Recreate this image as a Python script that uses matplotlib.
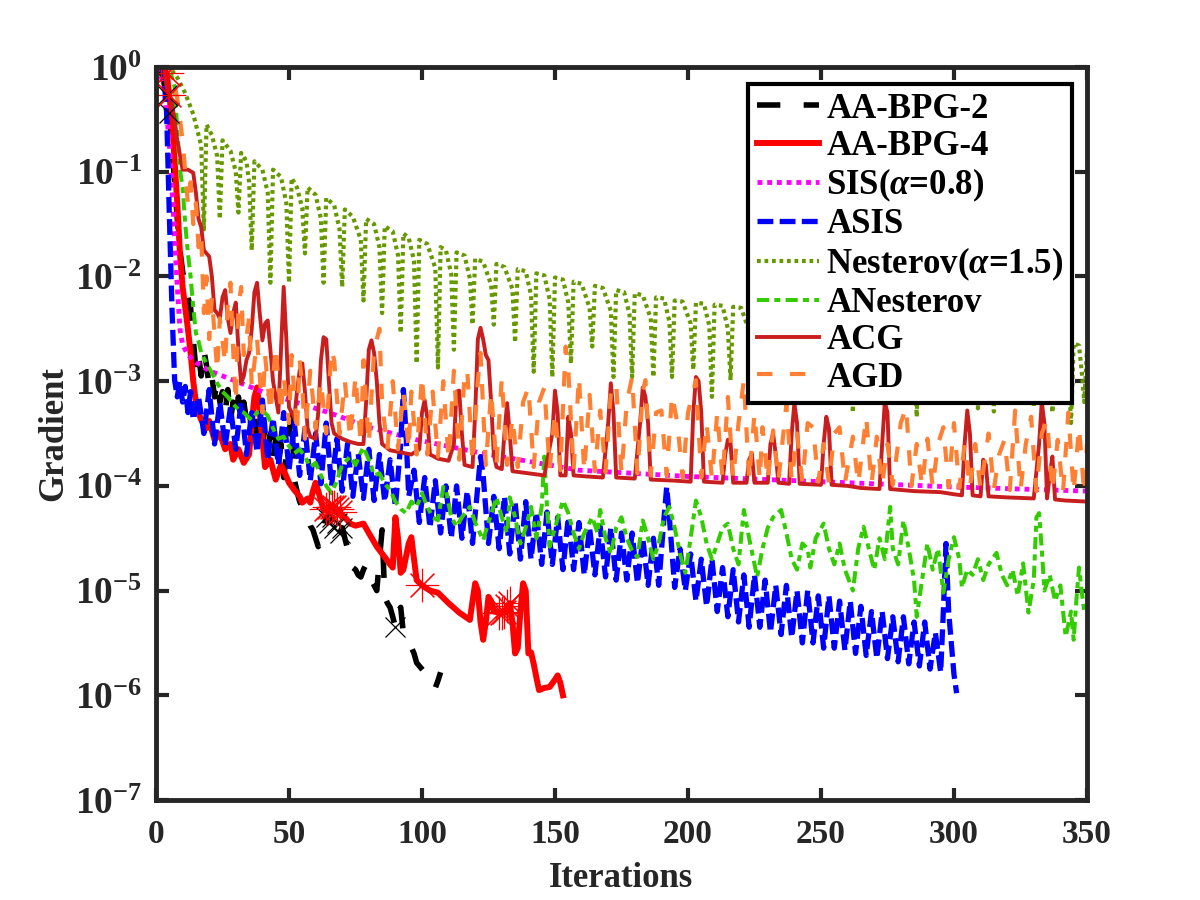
import numpy as np
import matplotlib
matplotlib.use("Agg")
import matplotlib.pyplot as plt
from matplotlib.ticker import NullLocator

# gradient norm per iteration, kept as (iteration, log10 value)
aabpg2 = [(1,0.0),(2,-0.05),(3,-0.15),(4,-0.27),(5,-0.44),(6,-0.75),(7,-1.1),(8,-1.45),(9,-1.75),(10,-1.95),
          (11,-2.1),(12,-2.2),(13,-2.3),(14,-2.6),(15,-2.89),(16,-2.75),(17,-2.95),(18,-2.7),(19,-2.85),(20,-3.05),
          (21,-2.95),(22,-3.15),(23,-3.0),(24,-3.2),(25,-3.1),(26,-3.3),(27,-3.08),(28,-3.37),(29,-3.2),(30,-3.35),
          (31,-3.15),(32,-3.4),(33,-3.2),(34,-3.37),(35,-3.25),(36,-3.5),(37,-3.3),(38,-3.55),(39,-3.4),(40,-3.6),
          (41,-3.45),(42,-3.65),(43,-3.5),(44,-3.75),(45,-3.55),(46,-3.8),(47,-3.6),(48,-3.92),(49,-3.7),(50,-3.5),
          (51,-3.3),(52,-3.94),(53,-4.05),(54,-4.15),(55,-4.2),(56,-4.23),(57,-4.3),(58,-4.38),(59,-4.42),(60,-4.5),
          (61,-4.58),(62,-4.45),(63,-4.4),(64,-4.3),(65,-4.35),(66,-4.3),(67,-4.4),(68,-4.35),(69,-4.45),(70,-4.4),
          (71,-4.5),(72,-4.6),(73,-4.7),(74,-4.78),(75,-4.8),(76,-4.85),(77,-4.87),(78,-4.8),(79,-4.75),(80,-4.85),
          (81,-4.9),(82,-4.95),(83,-5.0),(84,-4.7),(85,-4.42),(86,-5.06),(87,-5.12),(88,-5.16),(89,-5.25),(90,-5.35),
          (91,-5.2),(92,-5.16),(93,-5.41),(94,-5.45),(95,-5.5),(96,-5.54),(97,-5.6),(98,-5.69),(99,-5.72),(100,-5.75),
          (101,-5.78),(102,-5.8),(103,-5.85),(104,-5.9),(105,-5.93),(106,-5.86),(107,-5.78)]

aabpg4 = [(1,0.0),(2,0.0),(3,-0.02),(4,-0.06),(5,-0.27),(6,-0.5),(7,-0.9),(8,-1.3),(9,-1.78),(10,-2.1),
          (11,-2.3),(12,-2.5),(13,-2.73),(14,-3.0),(15,-3.2),(16,-3.3),(17,-3.37),(19,-3.45),(20,-3.38),(22,-3.56),
          (24,-3.5),(26,-3.65),(28,-3.6),(29,-3.75),(31,-3.65),(33,-3.78),(35,-3.7),(36,-3.4),(37,-3.15),(38,-3.06),
          (39,-3.3),(41,-3.82),(43,-3.75),(45,-3.94),(47,-3.8),(48,-3.85),(50,-3.97),(52,-4.04),(54,-4.1),(55,-4.16),
          (57,-4.12),(58,-4.16),(59,-4.05),(60,-3.97),(61,-4.05),(63,-4.23),(65,-4.2),(67,-4.2),(69,-4.25),(71,-4.3),
          (73,-4.36),(75,-4.38),(78,-4.36),(80,-4.45),(83,-4.58),(86,-4.68),(88,-4.75),(89,-4.78),(90,-4.3),(91,-4.5),
          (92,-4.83),(93,-4.8),(95,-4.55),(96,-4.49),(97,-4.7),(98,-4.9),(100,-4.95),(103,-5.0),(106,-5.02),(110,-5.12),
          (114,-5.21),(118,-5.28),(119,-5.1),(120,-4.93),(121,-5.0),(122,-5.3),(123,-5.47),(124,-5.3),(125,-5.06),(126,-5.1),
          (127,-5.2),(129,-5.21),(131,-5.21),(132,-5.15),(133,-5.12),(134,-5.3),(135,-5.6),(136,-5.55),(137,-5.2),(138,-4.93),
          (139,-5.0),(140,-5.6),(141,-5.59),(142,-5.7),(143,-5.83),(144,-5.95),(146,-5.93),(148,-5.92),(150,-5.85),(151,-5.81),
          (152,-5.88),(153,-6.0)]

sis = [(1,0.0),(3,-0.2),(4,-0.45),(5,-0.73),(6,-1.15),(7,-1.62),(8,-2.1),(9,-2.5),(10,-2.65),(12,-2.75),
       (15,-2.82),(20,-2.9),(29,-2.99),(40,-3.1),(50,-3.18),(65,-3.3),(80,-3.44),(98,-3.56),(123,-3.69),(159,-3.85),
       (200,-3.91),(260,-3.97),(300,-4.01),(350,-4.05)]

asis = [(1,0.0),(2,0.0),(3,-0.1),(4,-0.44),(5,-1.4),(6,-2.3),(7,-2.99),(8,-3.15),(9,-3.0),(10,-3.2),
        (11,-3.05),(12,-3.3),(13,-3.1),(14,-3.37),(16,-3.15),(18,-3.5),(20,-3.08),(22,-3.6),(24,-3.2),(26,-3.62),
        (28,-3.25),(30,-3.65),(32,-3.2),(34,-3.7),(36,-3.3),(38,-3.68),(40,-3.18),(42,-3.75),(44,-3.35),(46,-3.8),
        (48,-3.3),(50,-3.85),(52,-3.4),(54,-3.9),(56,-3.45),(58,-3.95),(60,-3.5),(62,-3.98),(64,-3.4),(66,-4.0),
        (68,-3.55),(70,-4.05),(72,-3.6),(74,-4.1),(76,-3.69),(78,-4.12),(80,-3.65),(82,-4.14),(84,-3.7),(86,-4.15),
        (88,-3.75),(90,-4.2),(92,-3.6),(93,-3.08),(94,-3.5),(95,-4.1),(97,-3.85),(99,-4.35),(101,-3.92),(103,-4.4),
        (105,-3.95),(107,-4.45),(109,-4.0),(111,-4.5),(113,-4.0),(115,-4.5),(117,-4.05),(119,-4.55),(121,-4.0),(122,-3.72),
        (123,-3.9),(125,-4.55),(127,-4.1),(129,-4.6),(131,-4.1),(133,-4.65),(135,-4.15),(137,-4.7),(139,-4.15),(141,-4.7),
        (143,-4.25),(145,-4.75),(147,-4.25),(149,-4.75),(151,-4.3),(153,-4.8),(155,-4.3),(157,-4.8),(159,-4.35),(161,-4.85),
        (163,-4.4),(165,-4.85),(167,-4.39),(169,-4.87),(171,-4.4),(173,-4.9),(175,-4.45),(177,-4.9),(179,-4.45),(181,-4.93),
        (183,-4.5),(185,-4.95),(187,-4.5),(189,-4.95),(191,-4.3),(192,-4.01),(193,-4.3),(195,-4.97),(197,-4.6),(199,-5.0),
        (201,-4.65),(203,-5.1),(205,-4.7),(207,-5.15),(209,-4.7),(211,-5.2),(213,-4.78),(215,-5.25),(217,-4.8),(219,-5.3),
        (221,-4.85),(223,-5.35),(225,-4.85),(227,-5.35),(229,-4.9),(231,-5.4),(233,-4.95),(235,-5.42),(237,-4.95),(239,-5.45),
        (241,-5.0),(243,-5.5),(245,-5.0),(247,-5.5),(249,-5.05),(251,-5.55),(253,-5.05),(255,-5.55),(257,-5.1),(259,-5.57),
        (261,-5.1),(263,-5.6),(265,-5.15),(267,-5.62),(269,-5.2),(271,-5.65),(273,-5.2),(275,-5.65),(277,-5.25),(279,-5.68),
        (281,-5.25),(283,-5.7),(285,-5.3),(287,-5.72),(289,-5.3),(291,-5.75),(293,-5.4),(295,-5.78),(296,-5.2),(297,-4.55),
        (298,-5.2),(299,-5.5),(300,-5.8),(301,-5.98)]

nesterov = [(1,0.0),(5,0.0),(8,-0.1),(11,-0.25),(14,-0.45),(17,-0.75),(18,-1.55),
            (19,-0.55),(21,-0.65),(23,-0.85),(24,-1.45),(25,-0.7),(28,-0.8),(30,-1.0),(31,-1.39),
            (32,-0.82),(34,-0.9),(35,-1.1),(36,-1.75),(37,-0.9),(40,-0.98),(42,-1.2),(43,-2.06),
            (44,-0.98),(47,-1.05),(49,-1.3),(50,-2.06),(51,-1.06),(53,-1.15),(55,-1.35),(56,-1.78),
            (57,-1.15),(60,-1.22),(62,-1.45),(63,-2.06),(64,-1.25),(67,-1.32),(69,-1.55),(70,-2.1),
            (71,-1.36),(74,-1.43),(77,-1.65),(78,-2.23),(79,-1.45),(82,-1.5),(84,-1.72),(85,-2.35),
            (86,-1.52),(89,-1.57),(91,-1.8),(92,-2.54),(93,-1.59),(95,-1.63),(97,-1.85),(98,-2.83),
            (99,-1.65),(102,-1.69),(105,-1.92),(106,-2.87),(107,-1.72),(109,-1.75),(111,-1.98),(112,-2.7),
            (113,-1.77),(116,-1.8),(118,-2.02),(119,-2.46),(120,-1.83),(123,-1.86),(126,-2.08),(127,-2.46),
            (128,-1.88),(131,-1.91),(134,-2.12),(135,-2.63),(136,-1.93),(139,-1.95),(141,-2.18),(142,-2.91),
            (143,-1.97),(146,-1.99),(148,-2.22),(149,-2.96),(150,-2.01),(153,-2.03),(155,-2.25),(156,-2.83),
            (157,-2.05),(160,-2.07),(163,-2.3),(164,-2.67),(165,-2.09),(168,-2.11),(171,-2.33),(172,-2.96),
            (173,-2.13),(176,-2.15),(178,-2.36),(179,-2.96),(180,-2.16),(183,-2.18),(186,-2.4),(187,-2.96),
            (188,-2.2),(191,-2.21),(193,-2.43),(194,-2.96),(195,-2.23),(198,-2.24),(201,-2.45),(202,-2.89),
            (203,-2.25),(206,-2.26),(208,-2.47),(209,-3.15),(210,-2.27),(213,-2.28),(215,-2.5),(216,-2.99),
            (217,-2.29),(220,-2.3),(223,-2.52),(224,-3.0),(225,-2.32),(228,-2.33),(230,-2.55),(231,-3.05),
            (232,-2.34),(235,-2.35),(238,-2.57),(239,-2.9),(240,-2.36),(243,-2.37),(245,-2.59),(246,-3.1),
            (247,-2.38),(250,-2.39),(253,-2.61),(254,-3.0),(255,-2.4),(258,-2.41),(261,-2.63),(262,-3.3),
            (263,-2.42),(266,-2.43),(268,-2.65),(269,-3.1),(270,-2.44),(273,-2.45),(276,-2.67),(277,-3.15),
            (278,-2.46),(281,-2.47),(285,-2.69),(286,-3.34),(287,-2.48),(290,-2.49),(292,-2.71),(293,-3.0),
            (294,-2.5),(297,-2.51),(300,-2.73),(301,-3.2),(302,-2.52),(305,-2.53),(308,-2.75),(309,-3.26),
            (310,-2.54),(312,-2.55),(314,-2.77),(315,-3.29),(316,-2.56),(319,-2.57),(321,-2.79),(322,-3.1),
            (323,-2.58),(326,-2.59),(329,-2.81),(330,-3.25),(331,-2.6),(334,-2.61),(336,-2.83),(337,-3.3),
            (338,-2.62),(341,-2.63),(343,-2.85),(344,-3.4),(345,-2.64),(347,-2.66),(348,-2.9),(349,-3.2),(350,-2.7)]

anesterov = [(1,0.0),(3,0.0),(5,0.0),(6,-0.1),(7,-0.19),(8,-0.6),(9,-0.98),(10,-1.15),(11,-1.5),(12,-1.78),
             (13,-2.0),(14,-2.3),(15,-2.54),(16,-2.62),(17,-2.73),(19,-2.83),(21,-2.92),(23,-3.02),(25,-3.1),(27,-3.15),
             (29,-3.22),(31,-3.27),(33,-3.3),(35,-3.35),(36,-3.37),(38,-3.3),(40,-3.28),(42,-3.33),(44,-3.45),(46,-3.55),
             (48,-3.53),(50,-3.62),(52,-3.69),(54,-3.65),(56,-3.72),(58,-3.82),(60,-3.78),(62,-3.9),(64,-4.0),(66,-4.07),
             (68,-3.95),(70,-3.8),(73,-3.72),(75,-3.8),(77,-3.68),(78,-3.63),(80,-3.75),(82,-3.9),(84,-3.88),(86,-3.98),
             (88,-4.04),(90,-4.15),(92,-4.22),(94,-4.26),(96,-4.15),(98,-4.2),(100,-4.07),(102,-4.2),(104,-4.3),(106,-4.33),
             (108,-4.01),(109,-4.04),(111,-4.3),(113,-4.39),(115,-4.3),(118,-4.2),(120,-4.35),(123,-4.52),(125,-4.35),(128,-4.11),
             (130,-4.3),(132,-4.45),(133,-4.11),(135,-4.3),(137,-4.55),(139,-4.4),(141,-4.2),(143,-4.5),(145,-4.2),(146,-3.72),
             (147,-4.2),(148,-4.58),(150,-4.4),(153,-4.14),(155,-4.26),(157,-4.45),(159,-4.6),(161,-4.45),(164,-4.3),(166,-4.45),
             (167,-4.23),(169,-4.5),(171,-4.65),(173,-4.4),(175,-4.3),(177,-4.5),(179,-4.62),(181,-4.68),(183,-4.33),(185,-4.5),
             (187,-4.7),(189,-4.55),(191,-4.3),(193,-4.2),(195,-4.4),(197,-4.65),(199,-4.83),(201,-4.5),(203,-4.14),(205,-4.3),
             (207,-4.55),(209,-4.7),(211,-4.55),(213,-4.4),(215,-4.36),(217,-4.6),(219,-4.75),(221,-4.23),(223,-4.5),(226,-4.87),
             (228,-4.6),(230,-4.4),(232,-4.3),(235,-4.23),(237,-4.45),(239,-4.7),(241,-4.8),(243,-4.55),(245,-4.6),(246,-4.78),
             (248,-4.5),(251,-4.36),(253,-4.6),(255,-4.75),(257,-4.55),(259,-4.8),(262,-5.0),(264,-4.6),(266,-4.39),(268,-4.6),
             (270,-4.8),(272,-4.5),(274,-4.7),(276,-4.2),(277,-4.6),(279,-4.75),(281,-4.33),(283,-4.6),(285,-4.9),(286,-5.25),
             (288,-4.9),(290,-4.55),(292,-4.8),(294,-4.6),(296,-5.02),(298,-4.7),(300,-4.49),(302,-4.7),(303,-4.97),(305,-4.8),
             (307,-4.85),(309,-4.7),(311,-4.9),(313,-4.75),(316,-4.64),(318,-4.85),(320,-4.95),(322,-4.8),(324,-5.05),(326,-4.74),
             (328,-5.21),(330,-4.9),(331,-4.3),(332,-4.26),(333,-4.6),(334,-5.0),(336,-4.85),(338,-5.1),(340,-4.95),(342,-5.44),
             (344,-5.2),(345,-5.47),(346,-5.1),(347,-4.78),(348,-5.0),(349,-5.2),(350,-5.16)]

acg = [(1,0.0),(3,0.0),(4,-0.19),(6,-0.35),(7,-0.5),(8,-0.7),(10,-0.98),(12,-0.98),(14,-1.01),(15,-1.2),
       (16,-1.45),(17,-1.53),(18,-1.75),(20,-1.81),(21,-2.0),(22,-2.32),(23,-2.35),(24,-2.4),(25,-2.2),(26,-2.13),
       (27,-2.4),(28,-2.54),(29,-2.35),(30,-2.25),(31,-2.7),(32,-3.02),(33,-2.95),(34,-2.8),(35,-2.73),(36,-2.5),
       (37,-2.15),(38,-2.06),(39,-2.35),(40,-2.61),(41,-2.45),(42,-2.42),(43,-2.7),(44,-3.0),(45,-3.15),(46,-3.3),
       (47,-2.7),(48,-2.1),(49,-2.6),(50,-3.25),(51,-3.3),(52,-3.35),(53,-3.1),(54,-2.9),(55,-2.83),(56,-3.1),
       (57,-3.45),(58,-3.53),(60,-3.55),(61,-3.3),(62,-2.8),(63,-2.58),(64,-2.6),(65,-3.0),(66,-3.4),(67,-3.5),
       (70,-3.55),(73,-3.58),(76,-3.6),(78,-3.6),(79,-3.2),(80,-2.7),(81,-2.61),(82,-2.73),(83,-3.0),(84,-3.4),
       (85,-3.6),(88,-3.66),(92,-3.68),(96,-3.7),(99,-3.65),(100,-3.3),(101,-3.18),(102,-3.35),(103,-3.7),(106,-3.74),
       (110,-3.76),(112,-3.6),(113,-3.1),(114,-3.09),(115,-3.5),(116,-3.8),(119,-3.82),(120,-3.3),(121,-2.6),(122,-2.49),
       (123,-2.6),(124,-2.75),(125,-2.8),(126,-3.2),(127,-3.7),(128,-3.82),(130,-3.84),(131,-3.5),(132,-3.21),(133,-3.5),
       (134,-3.86),(140,-3.88),(146,-3.9),(149,-3.5),(150,-3.09),(151,-3.3),(152,-3.9),(154,-3.9),(155,-3.34),(156,-3.5),
       (157,-3.9),(162,-3.91),(168,-3.92),(170,-3.4),(171,-3.02),(172,-3.3),(173,-3.92),(180,-3.93),(182,-3.4),(183,-3.06),
       (184,-3.15),(185,-3.4),(186,-3.94),(195,-3.95),(201,-3.96),(202,-3.3),(203,-2.96),(204,-3.0),(205,-3.3),(206,-3.96),
       (213,-3.97),(214,-3.7),(215,-3.56),(216,-3.59),(217,-3.97),(222,-3.97),(223,-3.75),(224,-3.69),(225,-3.97),(230,-3.97),
       (231,-3.6),(232,-3.5),(233,-3.7),(234,-3.97),(238,-3.98),(239,-3.5),(240,-3.21),(241,-3.4),(242,-3.98),(250,-3.99),
       (251,-3.6),(252,-3.34),(253,-3.45),(254,-3.99),(260,-4.0),(265,-4.02),(272,-4.03),(273,-3.6),(274,-3.2),(275,-3.3),
       (276,-4.03),(285,-4.05),(295,-4.06),(300,-4.08),(303,-4.09),(304,-3.6),(305,-3.28),(306,-3.5),(307,-4.09),(310,-4.1),
       (311,-3.75),(312,-3.8),(313,-4.1),(320,-4.11),(330,-4.12),(332,-3.6),(333,-3.2),(334,-3.4),(335,-4.12),(336,-3.9),
       (337,-3.72),(338,-4.13),(342,-4.14),(350,-4.15)]

agd = [(1,0.0),(3,0.0),(5,0.0),(6,-0.05),(8,-0.3),(10,-0.7),(11,-1.0),(12,-1.3),(13,-1.1),(14,-1.5),
       (15,-1.3),(16,-1.72),(17,-1.6),(18,-2.35),(19,-2.0),(20,-2.6),(21,-2.2),(23,-2.9),(24,-2.4),(26,-2.83),
       (27,-2.25),(28,-2.06),(29,-2.7),(30,-3.2),(31,-2.3),(32,-2.1),(33,-2.75),(35,-2.4),(36,-3.05),(38,-2.6),
       (40,-3.3),(41,-2.75),(43,-3.3),(45,-2.67),(46,-3.0),(47,-3.3),(48,-2.95),(50,-3.4),(51,-2.75),(53,-3.5),
       (54,-2.8),(55,-3.05),(56,-3.55),(58,-2.9),(60,-3.45),(62,-3.0),(64,-3.5),(66,-2.7),(67,-2.8),(69,-3.5),
       (71,-3.0),(73,-3.55),(75,-2.95),(77,-3.6),(78,-2.8),(80,-3.6),(82,-2.7),(84,-2.5),(85,-3.2),(87,-3.65),
       (89,-3.0),(91,-3.65),(93,-3.1),(95,-3.65),(96,-3.1),(98,-3.7),(100,-2.95),(102,-3.7),(104,-3.1),(106,-3.72),
       (108,-3.0),(110,-3.75),(112,-2.9),(114,-3.75),(116,-2.95),(117,-2.89),(119,-3.78),(121,-3.0),(122,-2.73),(124,-3.8),
       (126,-3.1),(128,-3.8),(130,-2.97),(132,-3.8),(134,-3.35),(136,-3.82),(138,-3.2),(140,-3.06),(142,-3.82),(144,-3.2),
       (146,-3.06),(148,-3.84),(150,-3.3),(152,-3.85),(154,-2.67),(155,-2.89),(157,-3.85),(159,-2.96),(161,-3.86),(163,-3.13),
       (165,-3.86),(167,-3.28),(169,-3.87),(171,-3.1),(173,-3.02),(175,-3.88),(177,-3.2),(179,-2.96),(181,-3.88),(183,-3.1),
       (184,-2.99),(186,-3.9),(188,-3.3),(190,-3.28),(192,-3.9),(194,-3.13),(196,-3.4),(198,-3.92),(200,-3.3),(203,-2.99),
       (205,-3.92),(207,-3.4),(209,-3.93),(211,-3.3),(213,-3.93),(215,-3.15),(217,-3.93),(219,-3.4),(221,-2.99),(223,-3.94),
       (225,-3.31),(227,-3.94),(228,-3.44),(230,-3.95),(232,-3.47),(234,-3.95),(237,-3.22),(239,-3.95),(241,-3.5),(243,-3.96),
       (245,-3.4),(247,-3.44),(249,-3.96),(251,-3.6),(253,-3.97),(255,-3.5),(257,-3.44),(259,-3.97),(262,-3.53),(264,-3.98),
       (267,-3.34),(269,-3.98),(271,-3.53),(273,-3.99),(275,-3.6),(277,-3.99),(280,-3.4),(282,-3.25),(284,-4.0),(286,-3.6),
       (288,-4.0),(290,-3.55),(292,-4.01),(294,-3.6),(296,-3.44),(298,-4.01),(300,-3.4),(302,-4.02),(304,-3.6),(306,-4.02),
       (308,-3.6),(310,-4.03),(313,-3.5),(315,-4.03),(317,-3.7),(319,-3.56),(321,-4.04),(323,-3.28),(325,-4.04),(327,-3.6),
       (329,-3.34),(331,-4.05),(333,-3.5),(335,-3.37),(337,-4.05),(339,-3.56),(341,-4.06),(343,-3.3),(345,-4.06),(347,-3.44),
       (349,-4.07),(350,-3.6)]

# marked iterations (x on AA-BPG-2, asterisks on AA-BPG-4)
aabpg2_marks = [(4,-0.27),(5,-0.44),(64,-4.3),(65,-4.35),(66,-4.3),(67,-4.4),(68,-4.35),(69,-4.45),(70,-4.4),(90,-5.35)]
aabpg4_marks = [(2,0.0),(4,-0.06),(5,-0.27),(64,-4.22),(65,-4.2),(66,-4.2),(67,-4.2),(68,-4.22),(69,-4.25),
                (100,-4.95),(129,-5.21),(130,-5.21),(131,-5.2),(132,-5.15),(133,-5.12)]

labels = ["AA-BPG-2", "AA-BPG-4", r"SIS($\alpha$=0.8)", "ASIS", r"Nesterov($\alpha$=1.5)",
          "ANesterov", "ACG", "AGD"]


def split(pts):
    it = np.array([p[0] for p in pts], dtype=float)
    g = 10.0 ** np.array([p[1] for p in pts])
    return it, g


plt.rcParams["font.family"] = "Liberation Serif"
plt.rcParams["font.weight"] = "bold"
plt.rcParams["mathtext.fontset"] = "custom"
plt.rcParams["mathtext.rm"] = "Liberation Serif:bold"
plt.rcParams["mathtext.bf"] = "Liberation Serif:bold"
plt.rcParams["mathtext.it"] = "Liberation Serif:italic"

fig = plt.figure(figsize=(12, 9), dpi=100)
ax = fig.add_axes([0.13, 0.1111, 0.7758, 0.8144])

series = [aabpg2, aabpg4, sis, asis, nesterov, anesterov, acg, agd]
styles = [
    dict(color="#000000", lw=4.0, dashes=(4.2, 4.2)),
    dict(color="#FF0000", lw=4.3),
    dict(color="#FF00FF", lw=3.5, dashes=(1.0, 1.0)),
    dict(color="#0000FF", lw=3.8, dashes=(3.0, 1.2)),
    dict(color="#669900", lw=3.0, dashes=(0.9, 0.9)),
    dict(color="#33CC00", lw=2.9, dashes=(3.0, 1.3, 1.5, 1.3)),
    dict(color="#C81E1E", lw=2.8),
    dict(color="#FF8033", lw=3.0, dashes=(3.7, 4.2)),
]

for pts, lab, st in zip(series, labels, styles):
    x, y = split(pts)
    ax.plot(x, y, label=lab, solid_joinstyle="round", **st)

mx, my = split(aabpg2_marks)
ax.plot(mx, my, ls="none", marker="x", ms=14, mec="k", mew=0.9)
mx, my = split(aabpg4_marks)
ax.plot(mx, my, ls="none", marker=(8, 2, 0), ms=24, mec="#FF0000", mew=0.8)

ax.set_yscale("log")
ax.set_xlim(0, 350)
ax.set_ylim(1e-7, 1e0)
ax.set_xticks(np.arange(0, 351, 50))
ax.set_yticks(10.0 ** np.arange(-7, 1))
ax.set_yticklabels([r"$\mathbf{10^{%d}}$" % e for e in range(-7, 1)])
ax.yaxis.set_minor_locator(NullLocator())

dark = "#262626"
for s in ax.spines.values():
    s.set_linewidth(3.5)
    s.set_color(dark)
ax.tick_params(axis="both", which="major", direction="in", length=9, width=3,
               top=True, right=True, colors=dark)
ax.tick_params(axis="x", pad=14, labelsize=24)
ax.tick_params(axis="y", pad=10, labelsize=27)

ax.set_xlabel("Iterations", fontsize=25, fontweight="bold", color=dark, labelpad=8)
ax.set_ylabel("Gradient", fontsize=25, fontweight="bold", color=dark, labelpad=3)

leg = ax.legend(loc="upper right", bbox_to_anchor=(0.984, 0.977), borderaxespad=0,
                prop={"family": "Liberation Serif", "weight": "bold", "size": 25},
                handlelength=1.8, handletextpad=0.2, labelspacing=0.12, borderpad=0.25,
                fancybox=False, framealpha=1, edgecolor="k")
leg.get_frame().set_linewidth(3.0)

fig.savefig("out.png", dpi=100)
